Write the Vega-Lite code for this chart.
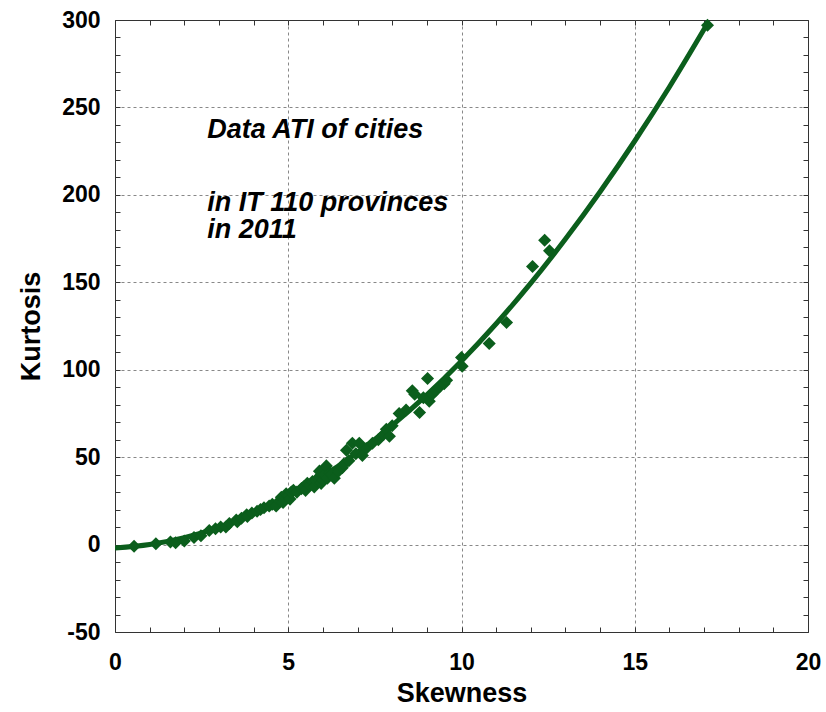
{
  "$schema": "https://vega.github.io/schema/vega-lite/v6.json",
  "autosize": "none",
  "width": 693,
  "height": 612,
  "padding": {"left": 115, "top": 20, "right": 18, "bottom": 80},
  "background": "white",
  "config": {
    "view": {"stroke": "#333", "strokeWidth": 1},
    "font": "Liberation Sans"
  },
  "datasets": {
    "curve": [
      {"skew": 0, "kurt": -2},
      {"skew": 1, "kurt": 0},
      {"skew": 2, "kurt": 4},
      {"skew": 3, "kurt": 9.9},
      {"skew": 4, "kurt": 17.7},
      {"skew": 5, "kurt": 27.4},
      {"skew": 6, "kurt": 39.1},
      {"skew": 7, "kurt": 52.7},
      {"skew": 8, "kurt": 68.2},
      {"skew": 9, "kurt": 85.6},
      {"skew": 10, "kurt": 105},
      {"skew": 11, "kurt": 126.3},
      {"skew": 12, "kurt": 149.5},
      {"skew": 13, "kurt": 174.7},
      {"skew": 14, "kurt": 201.8},
      {"skew": 15, "kurt": 230.8},
      {"skew": 16, "kurt": 261.7},
      {"skew": 17.1, "kurt": 298}
    ],
    "points": [
      {"skew": 0.55, "kurt": -1},
      {"skew": 1.18, "kurt": 0.5},
      {"skew": 1.6, "kurt": 1.5},
      {"skew": 1.75, "kurt": 1},
      {"skew": 2.0, "kurt": 2},
      {"skew": 2.28, "kurt": 4},
      {"skew": 2.48, "kurt": 5},
      {"skew": 2.72, "kurt": 8},
      {"skew": 2.9, "kurt": 9},
      {"skew": 3.05, "kurt": 10},
      {"skew": 3.2, "kurt": 10},
      {"skew": 3.3, "kurt": 12},
      {"skew": 3.5, "kurt": 14},
      {"skew": 3.53, "kurt": 13},
      {"skew": 3.65, "kurt": 15},
      {"skew": 3.8, "kurt": 17},
      {"skew": 3.82, "kurt": 16},
      {"skew": 3.95, "kurt": 18},
      {"skew": 4.1, "kurt": 19},
      {"skew": 4.2, "kurt": 20},
      {"skew": 4.3, "kurt": 21},
      {"skew": 4.45, "kurt": 22},
      {"skew": 4.54, "kurt": 23},
      {"skew": 4.65, "kurt": 22},
      {"skew": 4.75, "kurt": 25},
      {"skew": 4.8, "kurt": 27},
      {"skew": 4.85, "kurt": 24},
      {"skew": 4.94, "kurt": 29},
      {"skew": 5.0, "kurt": 28},
      {"skew": 5.05, "kurt": 26},
      {"skew": 5.09, "kurt": 30},
      {"skew": 5.15, "kurt": 31},
      {"skew": 5.25, "kurt": 30},
      {"skew": 5.38, "kurt": 32},
      {"skew": 5.45, "kurt": 33},
      {"skew": 5.5, "kurt": 31},
      {"skew": 5.55, "kurt": 35},
      {"skew": 5.62, "kurt": 34},
      {"skew": 5.7, "kurt": 36},
      {"skew": 5.75, "kurt": 33},
      {"skew": 5.81, "kurt": 36.5},
      {"skew": 5.85, "kurt": 38},
      {"skew": 5.9, "kurt": 42},
      {"skew": 5.95, "kurt": 35},
      {"skew": 6.0, "kurt": 37},
      {"skew": 6.05, "kurt": 40},
      {"skew": 6.1, "kurt": 45},
      {"skew": 6.13, "kurt": 38},
      {"skew": 6.2, "kurt": 41},
      {"skew": 6.27, "kurt": 40.5},
      {"skew": 6.33, "kurt": 38},
      {"skew": 6.45, "kurt": 42},
      {"skew": 6.56, "kurt": 44},
      {"skew": 6.6, "kurt": 46},
      {"skew": 6.68, "kurt": 54},
      {"skew": 6.75, "kurt": 48},
      {"skew": 6.85, "kurt": 58},
      {"skew": 6.95, "kurt": 52},
      {"skew": 7.05, "kurt": 58},
      {"skew": 7.14, "kurt": 51},
      {"skew": 7.25, "kurt": 55},
      {"skew": 7.43, "kurt": 58},
      {"skew": 7.6, "kurt": 60},
      {"skew": 7.75, "kurt": 63},
      {"skew": 7.83, "kurt": 66},
      {"skew": 7.92, "kurt": 62},
      {"skew": 8.0, "kurt": 68},
      {"skew": 8.2, "kurt": 75},
      {"skew": 8.4, "kurt": 77},
      {"skew": 8.58, "kurt": 88},
      {"skew": 8.65, "kurt": 86},
      {"skew": 8.79, "kurt": 75.5},
      {"skew": 8.9, "kurt": 84},
      {"skew": 9.02, "kurt": 95},
      {"skew": 9.07, "kurt": 82},
      {"skew": 9.16, "kurt": 86},
      {"skew": 9.25, "kurt": 88},
      {"skew": 9.36, "kurt": 90},
      {"skew": 9.5, "kurt": 92},
      {"skew": 9.57, "kurt": 94},
      {"skew": 10.0, "kurt": 107},
      {"skew": 10.02, "kurt": 102},
      {"skew": 10.8, "kurt": 115},
      {"skew": 11.3, "kurt": 127},
      {"skew": 12.05, "kurt": 159},
      {"skew": 12.4, "kurt": 174},
      {"skew": 12.54, "kurt": 168},
      {"skew": 17.1, "kurt": 297}
    ]
  },
  "resolve": {"axis": {"x": "independent", "y": "independent"}},
  "layer": [
    {
      "data": {"name": "curve"},
      "mark": {"type": "line", "color": "#0b5e1c", "strokeWidth": 5, "interpolate": "monotone", "clip": true},
      "encoding": {
        "x": {
          "field": "skew", "type": "quantitative",
          "scale": {"domain": [0, 20], "nice": false, "zero": false},
          "axis": {
            "orient": "bottom",
            "values": [0,1,2,3,4,5,6,7,8,9,10,11,12,13,14,15,16,17,18,19,20],
            "title": "Skewness",
            "titleFont": "Liberation Sans",
            "titleFontSize": 27,
            "titleFontWeight": "bold",
            "titleColor": "#000",
            "titlePadding": 6,
            "labelExpr": "datum.value % 5 === 0 ? datum.label : ''",
            "labelFont": "Liberation Sans",
            "labelFontSize": 23,
            "labelFontWeight": "bold",
            "labelColor": "#000",
            "labelPadding": 19,
            "labelFlush": false,
            "labelOverlap": false,
            "domain": false,
            "ticks": true,
            "offset": -5,
            "tickColor": "#333",
            "tickSize": 5,
            "grid": true,
            "gridColor": "#888",
            "gridDash": [3, 3],
            "gridOpacity": {"condition": {"test": "datum.value % 5 === 0 && datum.value > 0 && datum.value < 20", "value": 1}, "value": 0}
          }
        },
        "y": {
          "field": "kurt", "type": "quantitative",
          "scale": {"domain": [-50, 300], "nice": false, "zero": false},
          "axis": {
            "orient": "left",
            "values": [-50,-40,-30,-20,-10,0,10,20,30,40,50,60,70,80,90,100,110,120,130,140,150,160,170,180,190,200,210,220,230,240,250,260,270,280,290,300],
            "title": "Kurtosis",
            "titleFont": "Liberation Sans",
            "titleFontSize": 27,
            "titleFontWeight": "bold",
            "titleColor": "#000",
            "titlePadding": 16,
            "labelExpr": "datum.value % 50 !== 0 ? '' : (datum.value < 0 ? '-' + abs(datum.value) : datum.label)",
            "labelFont": "Liberation Sans",
            "labelFontSize": 23,
            "labelFontWeight": "bold",
            "labelColor": "#000",
            "labelPadding": 15,
            "labelFlush": false,
            "labelOverlap": false,
            "domain": false,
            "ticks": true,
            "offset": -5,
            "tickColor": "#333",
            "tickSize": 5,
            "grid": true,
            "gridColor": "#888",
            "gridDash": [3, 3],
            "gridOpacity": {"condition": {"test": "datum.value % 50 === 0 && datum.value > -50 && datum.value < 300", "value": 1}, "value": 0}
          }
        }
      }
    },
    {
      "data": {"name": "points"},
      "mark": {"type": "point", "shape": "diamond", "filled": true, "color": "#0b5e1c", "opacity": 1, "size": 170},
      "encoding": {
        "x": {
          "field": "skew", "type": "quantitative",
          "axis": {
            "orient": "top",
            "values": [0,1,2,3,4,5,6,7,8,9,10,11,12,13,14,15,16,17,18,19,20],
            "title": null, "labels": false, "domain": false, "grid": false,
            "offset": -5, "tickColor": "#333", "tickSize": 5
          }
        },
        "y": {
          "field": "kurt", "type": "quantitative",
          "axis": {
            "orient": "right",
            "values": [-50,-40,-30,-20,-10,0,10,20,30,40,50,60,70,80,90,100,110,120,130,140,150,160,170,180,190,200,210,220,230,240,250,260,270,280,290,300],
            "title": null, "labels": false, "domain": false, "grid": false,
            "offset": -5, "tickColor": "#333", "tickSize": 5
          }
        }
      }
    },
    {
      "data": {"values": [{}]},
      "mark": {"type": "text", "align": "left", "baseline": "middle", "font": "Liberation Sans", "fontSize": 27, "fontWeight": "bold", "fontStyle": "italic", "color": "#000"},
      "encoding": {
        "x": {"datum": 2.66, "type": "quantitative", "axis": null},
        "y": {"datum": 237, "type": "quantitative", "axis": null},
        "text": {"value": "Data ATI of cities"}
      }
    },
    {
      "data": {"values": [{}]},
      "mark": {"type": "text", "align": "left", "baseline": "middle", "font": "Liberation Sans", "fontSize": 27, "fontWeight": "bold", "fontStyle": "italic", "color": "#000"},
      "encoding": {
        "x": {"datum": 2.66, "type": "quantitative", "axis": null},
        "y": {"datum": 195.5, "type": "quantitative", "axis": null},
        "text": {"value": "in IT 110 provinces"}
      }
    },
    {
      "data": {"values": [{}]},
      "mark": {"type": "text", "align": "left", "baseline": "middle", "font": "Liberation Sans", "fontSize": 27, "fontWeight": "bold", "fontStyle": "italic", "color": "#000"},
      "encoding": {
        "x": {"datum": 2.66, "type": "quantitative", "axis": null},
        "y": {"datum": 180, "type": "quantitative", "axis": null},
        "text": {"value": "in 2011"}
      }
    }
  ]
}
